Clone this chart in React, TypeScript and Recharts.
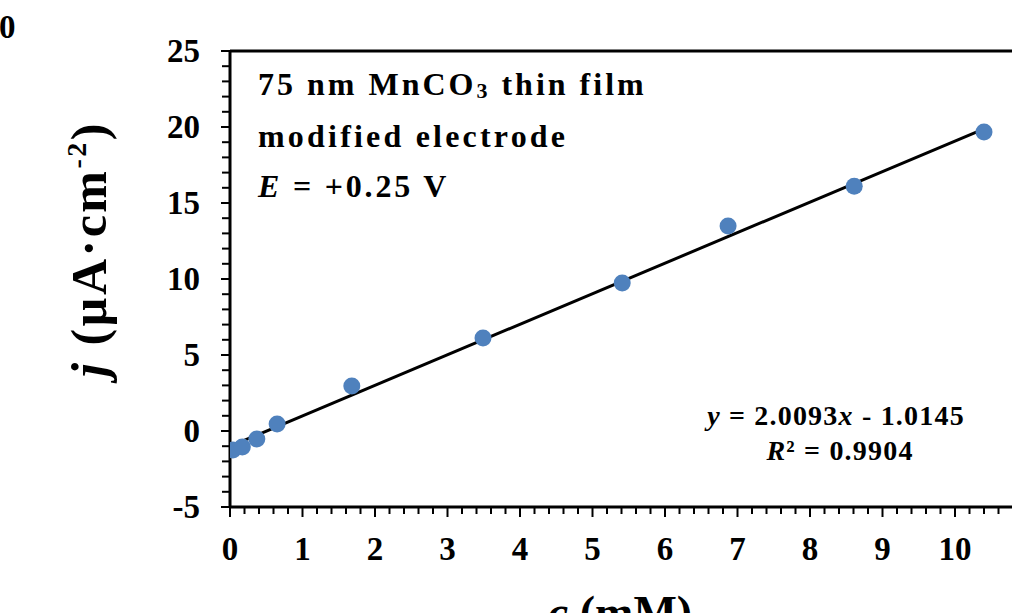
import React from 'react';
import { ScatterChart, Scatter, XAxis, YAxis, ReferenceLine, Customized } from 'recharts';

const concentrations = [0.04, 0.17, 0.37, 0.65, 1.68, 3.49, 5.41, 6.87, 8.61, 10.4];
const currents = [-1.25, -1.05, -0.53, 0.46, 2.96, 6.12, 9.74, 13.49, 16.1, 19.67];
const slope = 2.0093;
const intercept = -1.0145;
const rSquared = '0.9904';
const xMajorTicks = [0, 1, 2, 3, 4, 5, 6, 7, 8, 9, 10, 11];
const xTickLabels = ['0', '1', '2', '3', '4', '5', '6', '7', '8', '9', '10', ''];
const yMajorTicks = [-5, 0, 5, 10, 15, 20, 25];
const xMinorStep = 0.2;
const yMinorStep = 1;

const points = concentrations.map((c, i) => ({ x: c, y: currents[i] }));
const xMin = Math.min(...concentrations);
const xMax = Math.max(...concentrations);
const trendSegment = [
  { x: xMin, y: slope * xMin + intercept },
  { x: xMax, y: slope * xMax + intercept },
];

const xTicks: number[] = [];
for (let i = 0; i <= 55; i++) xTicks.push(Math.round(i * xMinorStep * 100) / 100);
const yTicks: number[] = [];
for (let v = -5; v <= 25; v += yMinorStep) yTicks.push(v);

const FONT = '"Liberation Serif", "Times New Roman", serif';

const majorIndex = (v: number, list: number[]) => list.findIndex((m) => Math.abs(m - v) < 1e-6);

const XTick = (props: any) => {
  const { x, y, payload } = props;
  const idx = majorIndex(payload.value, xMajorTicks);
  const major = idx >= 0;
  return (
    <g>
      <line x1={x} x2={x} y1={y} y2={y + (major ? 10 : 7)} stroke="#000" strokeWidth={2} />
      {major && xTickLabels[idx] && (
        <text x={x} y={y + 53} textAnchor="middle" fontFamily={FONT} fontWeight="bold" fontSize={33} fill="#000">
          {xTickLabels[idx]}
        </text>
      )}
    </g>
  );
};

const YTick = (props: any) => {
  const { x, y, payload } = props;
  const v = payload.value;
  const major = majorIndex(v, yMajorTicks) >= 0;
  return (
    <g>
      <line x1={x - (major ? 9 : 8)} x2={x} y1={y} y2={y} stroke="#000" strokeWidth={2} />
      {major && (
        <text x={x - 30} y={y + 11} textAnchor="end" fontFamily={FONT} fontWeight="bold" fontSize={33} fill="#000">
          {v}
        </text>
      )}
    </g>
  );
};

const Texts = () => (
  <g fontFamily={FONT} fontWeight="bold" fill="#000">
    <text x={-1} y={38} fontSize={33}>0</text>
    <text x={258} y={95} fontSize={32} letterSpacing={3}>
      75 nm MnCO<tspan fontSize={22} dy={3}>3</tspan><tspan dy={-3}> thin film</tspan>
    </text>
    <text x={258} y={147} fontSize={32} letterSpacing={3.2}>modified electrode</text>
    <text x={258} y={197} fontSize={32} letterSpacing={2.8}>
      <tspan fontStyle="italic">E</tspan> = +0.25 V
    </text>
    <text x={836} y={425} fontSize={28} textAnchor="middle" letterSpacing={1.2}>
      <tspan fontStyle="italic">y</tspan> = 2.0093<tspan fontStyle="italic">x</tspan> - 1.0145
    </text>
    <text x={840} y={460} fontSize={28} textAnchor="middle" letterSpacing={1.2}>
      <tspan fontStyle="italic">R</tspan>² = {rSquared}
    </text>
    <text transform="translate(106,249) rotate(-90)" fontSize={50} textAnchor="middle" letterSpacing={2.5}>
      <tspan fontStyle="italic">j</tspan> (µA·cm<tspan fontSize={28} dy={-20}>-2</tspan><tspan dy={20}>)</tspan>
    </text>
    <text x={620} y={628} fontSize={46} textAnchor="middle">
      <tspan fontStyle="italic">c</tspan> (mM)
    </text>
  </g>
);

export default function App() {
  return (
    <div style={{ position: 'fixed', left: 0, top: 0, width: 1012, height: 613, overflow: 'hidden', background: '#fff' }}>
      <ScatterChart width={1040} height={613} margin={{ top: 51, right: 12.5, bottom: 0, left: 0 }}>
        <XAxis
          type="number"
          dataKey="x"
          domain={[0, 11]}
          ticks={xTicks}
          interval={0}
          tickSize={0}
          tickMargin={0}
          tick={<XTick />}
          height={106}
          stroke="#000"
          strokeWidth={3}
          allowDataOverflow
        />
        <YAxis
          type="number"
          dataKey="y"
          domain={[-5, 25]}
          ticks={yTicks}
          interval={0}
          tickSize={0}
          tickMargin={0}
          tick={<YTick />}
          width={230}
          stroke="#000"
          strokeWidth={3}
          allowDataOverflow
        />
        <ReferenceLine y={25} stroke="#000" strokeWidth={3} />
        <ReferenceLine x={11} stroke="#000" strokeWidth={3} />
        <Scatter data={points} fill="#4F81BD" isAnimationActive={false} shape={(p: any) => <circle cx={p.cx} cy={p.cy} r={8.5} fill="#4F81BD" />} />
        <ReferenceLine segment={trendSegment} stroke="#000" strokeWidth={3} />
        <Customized component={Texts} />
      </ScatterChart>
    </div>
  );
}
